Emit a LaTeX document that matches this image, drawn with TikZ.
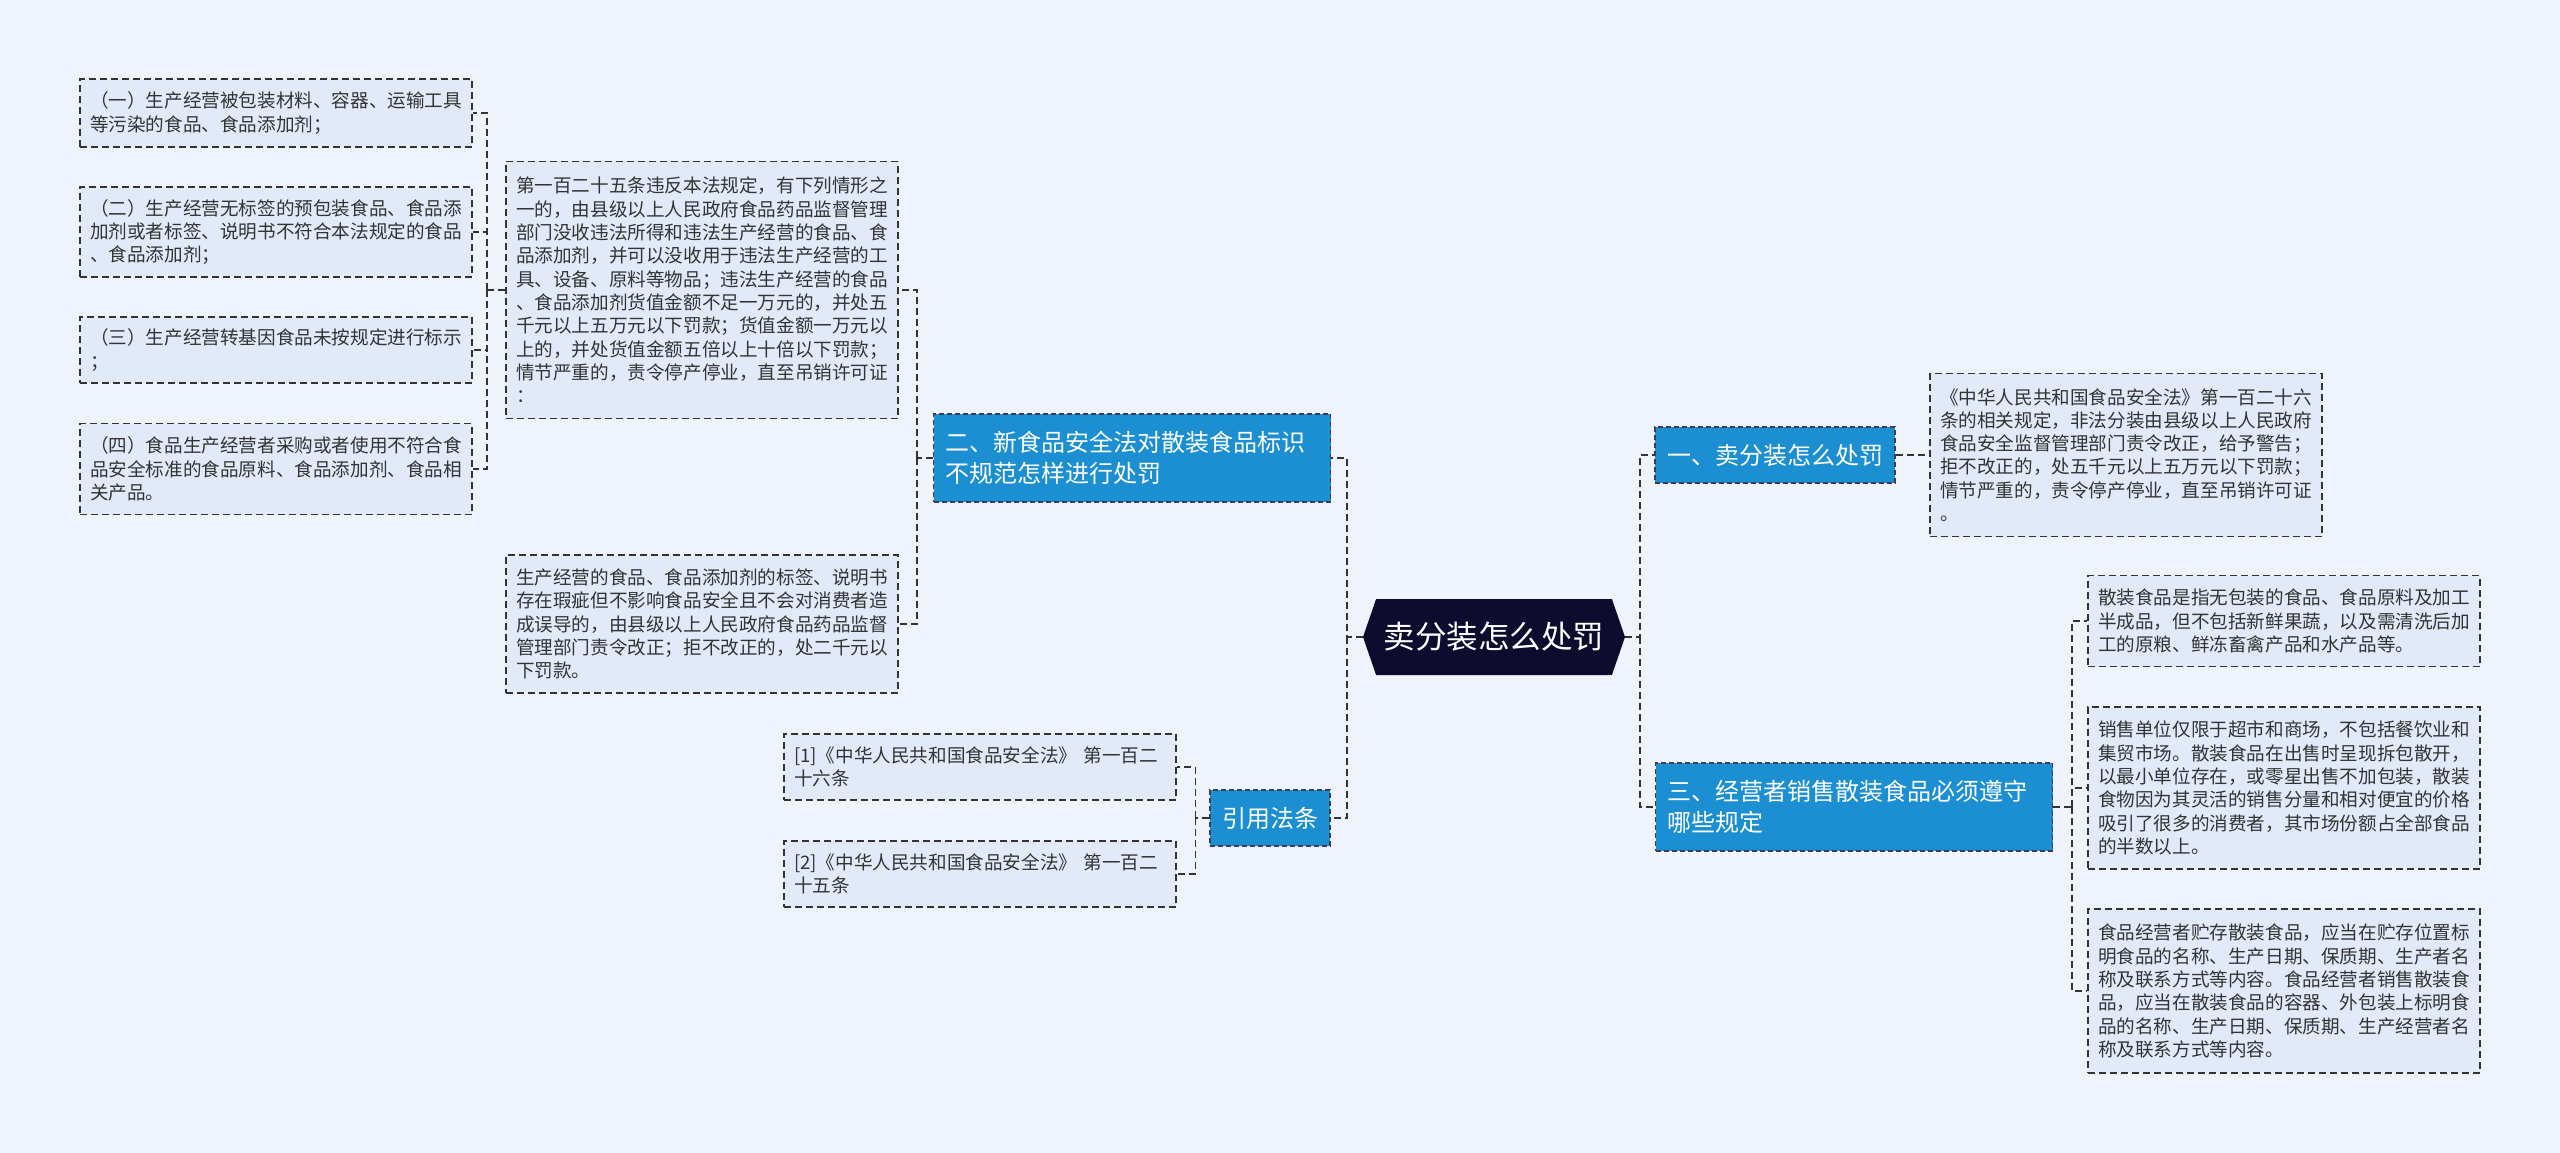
\documentclass[tikz,border=0pt]{standalone}
\usepackage{fontspec}
\setmainfont{Noto Sans CJK SC}
\usetikzlibrary{shapes.symbols,positioning}
\definecolor{bgblue}{RGB}{239,243,252}
\definecolor{leafblue}{RGB}{226,234,250}
\definecolor{topicblue}{RGB}{27,143,210}
\definecolor{rootnavy}{RGB}{13,11,46}
\definecolor{inkgray}{RGB}{51,51,51}
\tikzset{
  leaf/.style={rectangle,draw=inkgray,fill=leafblue,dash pattern=on 7pt off 4pt,
    line width=1.4pt,text width=372pt,inner xsep=10pt,inner ysep=2pt,
    minimum height=#1,align=left,text=inkgray,
    font=\fontsize{18.6pt}{23.3pt}\selectfont},
  leaf/.default=66pt,
  topic/.style={rectangle,draw=rootnavy!80,fill=topicblue,dash pattern=on 5pt off 3pt,
    line width=1.2pt,inner xsep=12pt,inner ysep=2pt,minimum height=#1,
    align=left,text=white,font=\fontsize{24pt}{31pt}\selectfont},
  topic/.default=56pt,
  link/.style={draw=black!80,line width=1.8pt,dash pattern=on 7pt off 4pt},
}

\begin{document}
\begin{tikzpicture}[
  x=1pt,y=-1pt,
  rootnode/.style={signal,signal to=west and east,signal pointer angle=142,
    fill=rootnavy,text=white,minimum width=262pt,minimum height=76pt,
    inner xsep=4pt,font=\fontsize{31.5pt}{36pt}\selectfont},
]
  \path[use as bounding box,fill=bgblue] (0,0) rectangle (2560,1153);

  \node[rootnode] (root) at (1494,637) {卖分装怎么处罚};

  \node[topic] (one) at (1775,455) {一、卖分装怎么处罚};
  \node[topic=88pt,text width=373pt] (two) at (1132,458) {%
    二、新食品安全法对散装食品标识\\
    不规范怎样进行处罚};
  \node[topic=88pt,text width=373pt] (three) at (1854,807) {%
    三、经营者销售散装食品必须遵守\\
    哪些规定};
  \node[topic] (cite) at (1270,818) {引用法条};

  \node[leaf=163pt] (d1) at (2126,455) {%
    《中华人民共和国食品安全法》第一百二十六\\
    条的相关规定，非法分装由县级以上人民政府\\
    食品安全监督管理部门责令改正，给予警告；\\
    拒不改正的，处五千元以上五万元以下罚款；\\
    情节严重的，责令停产停业，直至吊销许可证\\
    。};

  \node[leaf=91pt] (pa) at (2284,621) {%
    散装食品是指无包装的食品、食品原料及加工\\
    半成品，但不包括新鲜果蔬，以及需清洗后加\\
    工的原粮、鲜冻畜禽产品和水产品等。};
  \node[leaf=162pt] (pb) at (2284,788) {%
    销售单位仅限于超市和商场，不包括餐饮业和\\
    集贸市场。散装食品在出售时呈现拆包散开，\\
    以最小单位存在，或零星出售不加包装，散装\\
    食物因为其灵活的销售分量和相对便宜的价格\\
    吸引了很多的消费者，其市场份额占全部食品\\
    的半数以上。};
  \node[leaf=164pt] (pc) at (2284,991) {%
    食品经营者贮存散装食品，应当在贮存位置标\\
    明食品的名称、生产日期、保质期、生产者名\\
    称及联系方式等内容。食品经营者销售散装食\\
    品，应当在散装食品的容器、外包装上标明食\\
    品的名称、生产日期、保质期、生产经营者名\\
    称及联系方式等内容。};

  \node[leaf=257pt] (art) at (702,290) {%
    第一百二十五条违反本法规定，有下列情形之\\
    一的，由县级以上人民政府食品药品监督管理\\
    部门没收违法所得和违法生产经营的食品、食\\
    品添加剂，并可以没收用于违法生产经营的工\\
    具、设备、原料等物品；违法生产经营的食品\\
    、食品添加剂货值金额不足一万元的，并处五\\
    千元以上五万元以下罚款；货值金额一万元以\\
    上的，并处货值金额五倍以上十倍以下罚款；\\
    情节严重的，责令停产停业，直至吊销许可证\\
    ：};
  \node[leaf=138pt] (fix) at (702,624) {%
    生产经营的食品、食品添加剂的标签、说明书\\
    存在瑕疵但不影响食品安全且不会对消费者造\\
    成误导的，由县级以上人民政府食品药品监督\\
    管理部门责令改正；拒不改正的，处二千元以\\
    下罚款。};

  \node[leaf=68pt] (i1) at (276,113) {%
    （一）生产经营被包装材料、容器、运输工具\\
    等污染的食品、食品添加剂；};
  \node[leaf=90pt] (i2) at (276,232) {%
    （二）生产经营无标签的预包装食品、食品添\\
    加剂或者标签、说明书不符合本法规定的食品\\
    、食品添加剂；};
  \node[leaf=66pt] (i3) at (276,350) {%
    （三）生产经营转基因食品未按规定进行标示\\
    ；};
  \node[leaf=91pt] (i4) at (276,469) {%
    （四）食品生产经营者采购或者使用不符合食\\
    品安全标准的食品原料、食品添加剂、食品相\\
    关产品。};

  \node[leaf=66pt] (r1) at (980,767) {%
    [1]《中华人民共和国食品安全法》 第一百二\\
    十六条};
  \node[leaf=66pt] (r2) at (980,874) {%
    [2]《中华人民共和国食品安全法》 第一百二\\
    十五条};

  \coordinate[left=16pt of root.west] (jl);
  \coordinate[right=15pt of root.east] (jr);
  \coordinate[right=19pt of three.east] (j3);
  \coordinate[left=16pt of two.west] (j2);
  \coordinate[left=18pt of art.west] (ja);
  \coordinate[left=14pt of cite.west] (jc);

  \draw[link] (root.west) -- (jl) |- (two.east);
  \draw[link] (jl) |- (cite.east);
  \draw[link] (root.east) -- (jr) |- (one.west);
  \draw[link] (jr) |- (three.west);
  \draw[link] (one.east) -- (d1.west);
  \draw[link] (three.east) -- (j3);
  \foreach \n in {pa,pb,pc}
    \draw[link] (j3) |- (\n.west);
  \draw[link] (two.west) -- (j2);
  \foreach \n in {art,fix}
    \draw[link] (j2) |- (\n.east);
  \draw[link] (art.west) -- (ja);
  \foreach \n in {i1,i2,i3,i4}
    \draw[link] (ja) |- (\n.east);
  \draw[link] (cite.west) -- (jc);
  \foreach \n in {r1,r2}
    \draw[link] (jc) |- (\n.east);
\end{tikzpicture}
\end{document}
